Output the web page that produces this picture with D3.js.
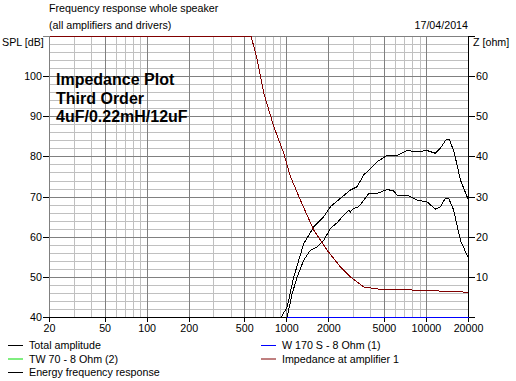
<!DOCTYPE html>
<html>
<head>
<meta charset="utf-8">
<script src="https://cdn.jsdelivr.net/npm/d3@7"></script>
<style>
  body { margin: 0; background: #fff; }
  svg text { font-family: "Liberation Sans", Arial, sans-serif; font-size: 10.7px; fill: #000; }
</style>
</head>
<body>
<div id="viz"></div>
<script>
// values: [frequency Hz, value]
var totalAmplitude = [[20, 30], [912, 40.1], [1006, 42.6], [1122, 50.1], [1322, 58.4], [1560, 62.6],
  [1838, 65.1], [2054, 67.6], [2421, 69.7], [2857, 71.75], [3190, 72.6], [3556, 75.5], [4434, 78.8],
  [5228, 80.4], [6166, 80.4], [7270, 81.6], [8573, 81.3], [10106, 81.6], [11588, 80.9], [12586, 82.2],
  [13898, 84.4], [14674, 84.25], [15852, 80.9], [17500, 74.25], [20000, 69.25]];
var energyResponse = [[20, 30], [1006, 40.1], [1092, 45.9], [1186, 50.1], [1322, 54.25], [1476, 56.75],
  [1649, 57.6], [1838, 59.25], [2054, 62.2], [2294, 63.6], [2557, 65.5], [2776, 66.75], [2857, 66.3],
  [3016, 67.2], [3274, 67.6], [3556, 69.25], [3861, 70.9], [4434, 70.9], [5228, 71.9], [5829, 71.5],
  [6166, 70.5], [7270, 70.5], [8573, 69.25], [10106, 68.8], [11588, 67], [12586, 67.6], [13666, 69.7],
  [14432, 69.7], [15668, 66.75], [17500, 59.25], [20000, 54.7]];
var wooferSpl = [[1000, 35], [20000, 35]];
var impedance = [[20, 1990], [200, 199], [500, 80], [556, 71.6], [614, 64.25], [684, 55.9], [806, 47.6],
  [951, 40.9], [1062, 35.1], [1252, 29.25], [1560, 21.75], [1944, 16.75], [2421, 12.6], [2857, 10.1],
  [3556, 7.6], [4944, 6.9], [7000, 6.9], [10000, 6.75], [14000, 6.5], [20000, 6.3]];

var freqTicks = [20, 50, 100, 200, 500, 1000, 2000, 5000, 10000, 20000];
var freqMinor = [30, 40, 60, 70, 80, 90, 300, 400, 600, 700, 800, 900, 3000, 4000, 6000, 7000, 8000, 9000];
var splTicks = [40, 50, 60, 70, 80, 90, 100];
var zTicks = [10, 20, 30, 40, 50, 60];
var titleLines = ["Impedance Plot", "Third Order", "4uF/0.22mH/12uF"];
var legendItems = [
  { name: "Total amplitude", color: "#000000", col: 0, row: 0 },
  { name: "TW 70 - 8 Ohm (2)", color: "#00dd00", col: 0, row: 1 },
  { name: "Energy frequency response", color: "#000000", col: 0, row: 2 },
  { name: "W 170 S - 8 Ohm (1)", color: "#0000ff", col: 1, row: 0 },
  { name: "Impedance at amplifier 1", color: "#800000", col: 1, row: 1 }
];

var w = 516, h = 381;
var margin = { left: 49, right: 48, top: 36, bottom: 64 };
var svg = d3.select("#viz").append("svg").attr("width", w).attr("height", h);

var x = d3.scaleLog().domain([20, 20000]).range([margin.left, w - margin.right]);
var y = d3.scaleLinear().domain([40, 110]).range([h - margin.bottom, margin.top]).clamp(true);
var z = d3.scaleLinear().domain([0, 70]).range([h - margin.bottom, margin.top]).clamp(true);
var x0 = x.range()[0], x1 = x.range()[1], yb = y.range()[0], yt = y.range()[1];

var grid = svg.append("g").attr("shape-rendering", "crispEdges").attr("transform", "translate(0.5,0.5)");
// horizontal minor grid, every 2 dB
grid.selectAll("line.hmin").data(d3.range(42, 110, 2).filter(function(d) { return d % 10 != 0; }))
  .enter().append("line")
  .attr("x1", x0).attr("x2", x1)
  .attr("y1", function(d) { return y(d); }).attr("y2", function(d) { return y(d); })
  .attr("stroke", "#c0c0c0");
grid.selectAll("line.vmin").data(freqMinor).enter().append("line")
  .attr("x1", function(d) { return x(d); }).attr("x2", function(d) { return x(d); })
  .attr("y1", yt).attr("y2", yb)
  .attr("stroke", "#c0c0c0");
grid.selectAll("line.hmaj").data([50, 60, 70, 80, 90, 100, 110]).enter().append("line")
  .attr("x1", x0).attr("x2", x1)
  .attr("y1", function(d) { return y(d); }).attr("y2", function(d) { return y(d); })
  .attr("stroke", "#808080");
grid.selectAll("line.vmaj").data(freqTicks).enter().append("line")
  .attr("x1", function(d) { return x(d); }).attr("x2", function(d) { return x(d); })
  .attr("y1", yt).attr("y2", yb)
  .attr("stroke", "#808080");

// axes
var leftAxis = d3.axisLeft(y).tickValues(splTicks).tickSize(6).tickPadding(1);
svg.append("g").attr("transform", "translate(" + x0 + ",0)").call(leftAxis)
  .call(function(g) { g.select(".domain").attr("stroke", "#808080"); });
var rightAxis = d3.axisRight(z).tickValues(zTicks).tickSize(7).tickPadding(1);
svg.append("g").attr("transform", "translate(" + x1 + ",0)").call(rightAxis)
  .call(function(g) { g.select(".domain").attr("stroke", "#000"); });
var bottomAxis = d3.axisBottom(x).tickValues(freqTicks).tickFormat(d3.format("d")).tickSize(5).tickPadding(2);
svg.append("g").attr("transform", "translate(0," + yb + ")").call(bottomAxis);
svg.selectAll(".tick text").attr("font-size", 10.7).attr("font-family", "Liberation Sans, Arial, sans-serif");
svg.selectAll(".domain").attr("shape-rendering", "crispEdges");
svg.selectAll(".tick line").attr("shape-rendering", "crispEdges");

// curves, drawn aliased like the original program does
var splLine = d3.line().x(function(d) { return x(d[0]); }).y(function(d) { return y(d[1]); });
var zLine = d3.line().x(function(d) { return x(d[0]); }).y(function(d) { return z(d[1]); });
var curves = svg.append("g").attr("fill", "none").attr("shape-rendering", "crispEdges")
  .attr("transform", "translate(0.5,0.5)");
curves.append("path").datum(totalAmplitude).attr("d", splLine).attr("stroke", "#000");
curves.append("path").datum(energyResponse).attr("d", splLine).attr("stroke", "#000");
curves.append("path").datum(wooferSpl).attr("d", splLine).attr("stroke", "#0000ff");
curves.append("path").datum(impedance).attr("d", zLine).attr("stroke", "#800000");

// header texts
svg.append("text").attr("x", 49).attr("y", 12).text("Frequency response whole speaker");
svg.append("text").attr("x", 49).attr("y", 29).text("(all amplifiers and drivers)");
svg.append("text").attr("x", 468).attr("y", 29).attr("text-anchor", "end").text("17/04/2014");
svg.append("text").attr("x", 2).attr("y", 46).text("SPL [dB]");
svg.append("text").attr("x", 473).attr("y", 46).text("Z [ohm]");

// title block
svg.selectAll("text.title").data(titleLines).enter().append("text")
  .attr("x", 56).attr("y", function(d, i) { return 85 + i * 18.5; })
  .style("font-size", "16px").style("font-weight", "bold")
  .text(function(d) { return d; });

// legend
var legend = svg.selectAll("g.legend").data(legendItems).enter().append("g")
  .attr("transform", function(d) { return "translate(" + (d.col ? 261 : 8) + "," + (345 + d.row * 13.5) + ")"; });
legend.append("line").attr("x1", 0).attr("x2", 15).attr("y1", 0.5).attr("y2", 0.5)
  .attr("stroke", function(d) { return d.color; });
legend.append("text").attr("x", 21).attr("y", 4).text(function(d) { return d.name; });
</script>
</body>
</html>
